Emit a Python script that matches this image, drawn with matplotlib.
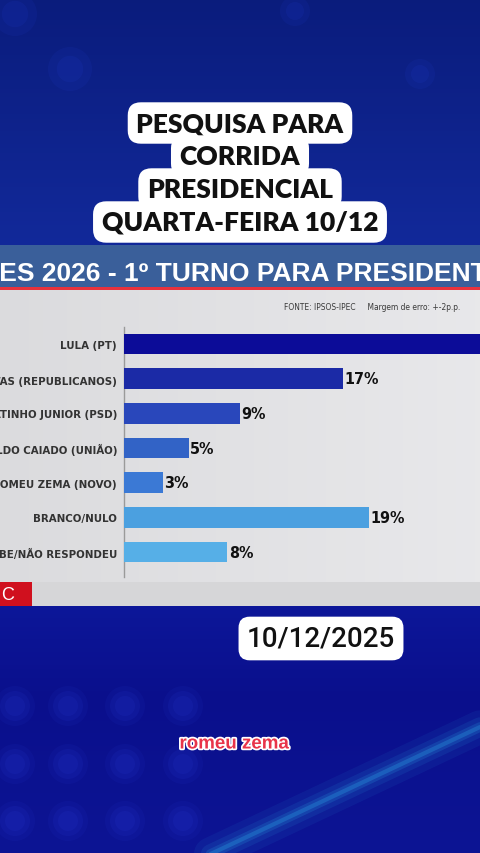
import numpy as np
import matplotlib.pyplot as plt
from matplotlib.patches import Rectangle, Circle
import matplotlib.patheffects as pe

# dados da pesquisa Ipsos-Ipec (1o turno, 10/12/2025)
candidatos = ["LULA (PT)", "TARCÍSIO DE FREITAS (REPUBLICANOS)", "RATINHO JUNIOR (PSD)",
              "RONALDO CAIADO (UNIÃO)", "ROMEU ZEMA (NOVO)", "BRANCO/NULO",
              "NÃO SABE/NÃO RESPONDEU"]
percentuais = [39, 17, 9, 5, 3, 19, 8]
cores = ["#0c0c98", "#1b2aa6", "#2947bb", "#3263c6", "#3b79d5", "#4ba0e0", "#56afe7"]

titulo = ["PESQUISA PARA", "CORRIDA", "PRESIDENCIAL", "QUARTA-FEIRA 10/12"]
faixa = "ELEIÇÕES 2026 - 1º TURNO PARA PRESIDENTE"
fonte_txt = "FONTE: IPSOS-IPEC     Margem de erro: +-2p.p."
data_txt = "10/12/2025"
legenda = "romeu zema"

W, H = 480, 854
fig = plt.figure(figsize=(W / 100, H / 100), dpi=100)

# fundo (coordenadas em pixels)
bg = fig.add_axes([0, 0, 1, 1])
bg.set_xlim(0, W)
bg.set_ylim(H, 0)
bg.axis("off")

ys = np.linspace(0, H, 200)
stops_y = [0, 240, 607, 700, 854]
stops_c = np.array([[0.04, 0.11, 0.49], [0.07, 0.16, 0.60], [0.05, 0.09, 0.60],
                    [0.04, 0.06, 0.55], [0.05, 0.08, 0.58]])
grad = np.stack([np.interp(ys, stops_y, stops_c[:, k]) for k in range(3)], axis=-1)
bg.imshow(grad[:, None, :], extent=[0, W, H, 0], aspect="auto", zorder=0)

# bolinhas desfocadas no fundo
for cy in [707, 765, 822]:
    for cx in [15, 68, 125, 183]:
        for r, a in [(20, 0.06), (15, 0.08), (10, 0.08)]:
            bg.add_patch(Circle((cx, cy), r, fc="#3a55ff", ec="none", alpha=a, zorder=1))
for cx, cy, rr in [(15, 15, 22), (70, 70, 22), (295, 12, 15), (420, 75, 15)]:
    for r, a in [(rr, 0.07), (rr * 0.6, 0.08)]:
        bg.add_patch(Circle((cx, cy), r, fc="#2f50ff", ec="none", alpha=a, zorder=1))

# faixa de luz diagonal
for lw, a in [(24, 0.07), (14, 0.1), (7, 0.16), (3, 0.25)]:
    bg.plot([200, 480], [860, 728], color="#30b8f0", lw=lw, alpha=a,
            solid_capstyle="round", zorder=1)

# painel do grafico
bg.add_patch(Rectangle((0, 246), W, 43, fc="#3a5f9a", ec="none", zorder=2))
bg.add_patch(Rectangle((0, 288), W, 3, fc="#e8323c", ec="none", zorder=3))
panel = np.linspace(0, 1, 100)
pcol = np.stack([0.86 + 0.05 * panel, 0.86 + 0.05 * panel, 0.87 + 0.05 * panel], axis=-1)
bg.imshow(pcol[None, :, :], extent=[0, W, 583, 291], aspect="auto", zorder=2)
bg.add_patch(Rectangle((0, 583), W, 24, fc="#d6d6d8", ec="none", zorder=2))
bg.add_patch(Rectangle((0, 583), 32, 24, fc="#d0101e", ec="none", zorder=3))
bg.text(8, 596, "C", ha="center", va="center", color="white", fontsize=13,
        family="Liberation Sans", zorder=4)

# faixa do titulo (cortada nas bordas)
r = fig.canvas.get_renderer()
tmp = bg.text(0, 0, "ELEIÇÕ", fontsize=19, fontweight="bold", family="Liberation Sans")
off = tmp.get_window_extent(renderer=r).width
tmp.remove()
bg.text(-off - 1, 281, faixa, ha="left", va="baseline", color="white", fontsize=19,
        fontweight="bold", family="Liberation Sans", zorder=4)

bg.text(460, 310, fonte_txt, ha="right", va="baseline", color="#3a3a3a", fontsize=6,
        family="DejaVu Sans", fontstretch="condensed", zorder=4)

# titulo em caixas brancas
for k, linha in enumerate(titulo):
    bg.text(W / 2, 132 + 33 * k, linha, ha="center", va="baseline", fontsize=19,
            fontweight="heavy", family="Lato", color="#111111", zorder=5,
            bbox=dict(boxstyle="round,pad=0.33,rounding_size=0.5", fc="white", ec="none"))

# data
bg.text(321, 647, data_txt, ha="center", va="baseline", fontsize=20, fontweight="medium",
        family="Roboto", color="#111111", zorder=5,
        bbox=dict(boxstyle="round,pad=0.3,rounding_size=0.4", fc="white", ec="none"))

# legenda
bg.text(234, 745, legenda, ha="center", va="center", fontsize=13.5, fontweight="bold",
        family="Liberation Sans", color="#e8344a", zorder=5,
        path_effects=[pe.withStroke(linewidth=2.5, foreground="white")])

# grafico de barras
ax = fig.add_axes([124 / W, (H - 578) / H, (W - 124) / W, 250 / H])
ax.patch.set_alpha(0)
pos = np.arange(len(candidatos))
ax.barh(pos, percentuais, height=0.6, color=cores, zorder=3)
ax.set_xlim(0, (W - 124) / 12.9)
ax.set_ylim(len(candidatos) - 0.28, -0.49)
for i, v in enumerate(percentuais):
    ax.text(v + 0.12, i, f"{v}%", ha="left", va="center", fontsize=11.5, fontweight="bold",
            family="DejaVu Sans", fontstretch="condensed", color="#111111", clip_on=True)

ax.set_yticks(pos)
ax.set_yticklabels(candidatos, fontsize=8.2, fontweight="bold", family="DejaVu Sans",
                   fontstretch="condensed", color="#333333")
ax.tick_params(axis="y", length=0, pad=5)
ax.set_xticks([])
for s in ["top", "right", "bottom"]:
    ax.spines[s].set_visible(False)
ax.spines["left"].set_color("#9a9a9a")
ax.spines["left"].set_linewidth(1)

fig.savefig("out.png", dpi=100)
